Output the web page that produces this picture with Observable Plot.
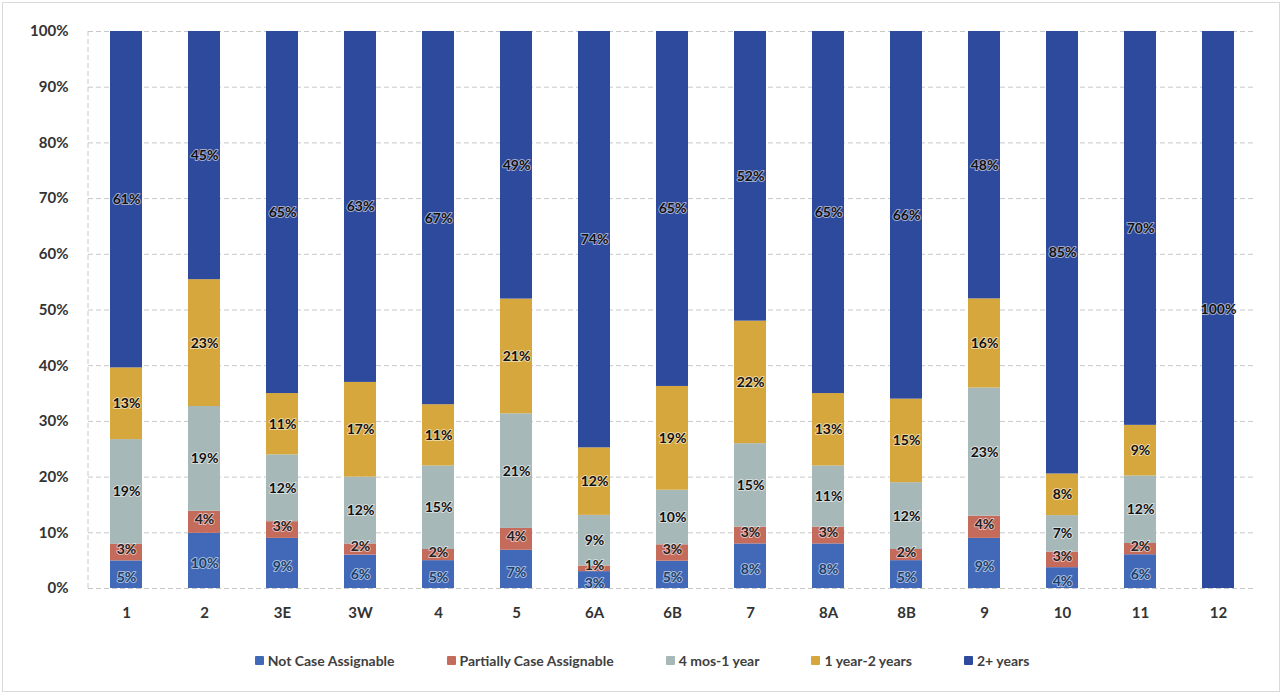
<!DOCTYPE html>
<html>
<head>
<meta charset="utf-8">
<script src="https://cdn.jsdelivr.net/npm/d3@7"></script>
<script src="https://cdn.jsdelivr.net/npm/@observablehq/plot@0.6"></script>
<style>
  html, body { margin: 0; padding: 0; background: #fff; }
  #wrap { position: relative; width: 1284px; height: 696px; overflow: hidden; font-family: Lato, "Open Sans", sans-serif; }
  #border { position: absolute; left: 2px; top: 2px; width: 1278px; height: 690px; border: 1px solid #d9d9d9; box-sizing: border-box; }
  #chart { position: absolute; left: 0; top: 0; }
  #legend { position: absolute; left: 0; top: 652px; width: 1284px; display: flex; justify-content: center; font-size: 14px; font-weight: 700; color: #404040; }
  .item { display: flex; align-items: center; margin: 0 26px; }
  .sw { width: 9px; height: 9px; margin-right: 4px; border-radius: 1px; }
</style>
</head>
<body>
<div id="wrap">
  <div id="border"></div>
  <div id="chart"></div>
  <div id="legend"></div>
</div>
<script>
const districts = ["1","2","3E","3W","4","5","6A","6B","7","8A","8B","9","10","11","12"];
const seriesNames = ["Not Case Assignable","Partially Case Assignable","4 mos-1 year","1 year-2 years","2+ years"];
const notCase   = [5,10,9,6,5,7,3,5,8,8,5,9,4,6,0];
const partial   = [3,4,3,2,2,4,1,3,3,3,2,4,3,2,0];
const mos4to1y  = [19,19,12,12,15,21,9,10,15,11,12,23,7,12,0];
const y1to2     = [13,23,11,17,11,21,12,19,22,13,15,16,8,9,0];
const y2plus    = [61,45,65,63,67,49,74,65,52,65,66,48,85,70,100];
const yTicks    = [0,10,20,30,40,50,60,70,80,90,100];
const colors    = ["#4169b8","#c46b5c","#a7b8b8","#d6a73c","#2e4a9c"];
const labelColors = ["#17406b","#222","#111","#111","#111"];
const labelDy   = [3,-3,0,0,0];

const seriesValues = [notCase, partial, mos4to1y, y1to2, y2plus];
const data = [];
districts.forEach((d, i) => {
  seriesNames.forEach((s, j) => {
    data.push({district: d, series: s, value: seriesValues[j][i], idx: j});
  });
});

const stackOpts = {x: "district", y: "value", z: "series", order: seriesNames, offset: "normalize"};

const labelMarks = seriesNames.map((s, j) => Plot.text(data, Plot.stackY({
  ...stackOpts,
  text: d => (d.idx === j && d.value > 0) ? d.value + "%" : null,
  fill: labelColors[j],
  stroke: "white",
  strokeWidth: 2,
  strokeOpacity: 0.55,
  fontSize: 14,
  fontWeight: 700,
  dy: labelDy[j]
})));

const chart = Plot.plot({
  width: 1284,
  height: 632,
  marginTop: 31,
  marginBottom: 44,
  marginLeft: 88,
  marginRight: 29,
  style: {fontFamily: "Lato, 'Open Sans', sans-serif", background: "transparent"},
  x: {domain: districts, paddingInner: 0.59, paddingOuter: 0.27, label: null},
  y: {domain: [0, 1], ticks: yTicks.map(v => v / 100), tickFormat: v => Math.round(v * 100) + "%", label: null},
  color: {domain: seriesNames, range: colors},
  marks: [
    Plot.gridY(yTicks.map(v => v / 100), {stroke: "#c8c8c8", strokeOpacity: 1, strokeDasharray: "5,3"}),
    Plot.barY(data, Plot.stackY({...stackOpts, fill: "series"})),
    ...labelMarks,
    Plot.axisY({ticks: yTicks.map(v => v / 100), tickFormat: v => Math.round(v * 100) + "%", tickSize: 0, tickPadding: 20, fontSize: 15, fontWeight: 700, fill: "#333", label: null}),
    Plot.axisX({tickSize: 0, tickPadding: 19, fontSize: 15, fontWeight: 700, fill: "#333", label: null})
  ]
});

document.getElementById("chart").appendChild(chart);

// left axis line, from the y scale
const ys = chart.scale("y");
const svg = d3.select(chart);
svg.append("line")
  .attr("x1", 88).attr("x2", 88)
  .attr("y1", ys.range[0]).attr("y2", ys.range[1])
  .attr("stroke", "#c8c8c8").attr("stroke-dasharray", "5,3");

const legend = document.getElementById("legend");
seriesNames.forEach((s, j) => {
  const it = document.createElement("div");
  it.className = "item";
  const sw = document.createElement("span");
  sw.className = "sw";
  sw.style.background = colors[j];
  const t = document.createElement("span");
  t.textContent = s;
  it.appendChild(sw); it.appendChild(t);
  legend.appendChild(it);
});
</script>
</body>
</html>
